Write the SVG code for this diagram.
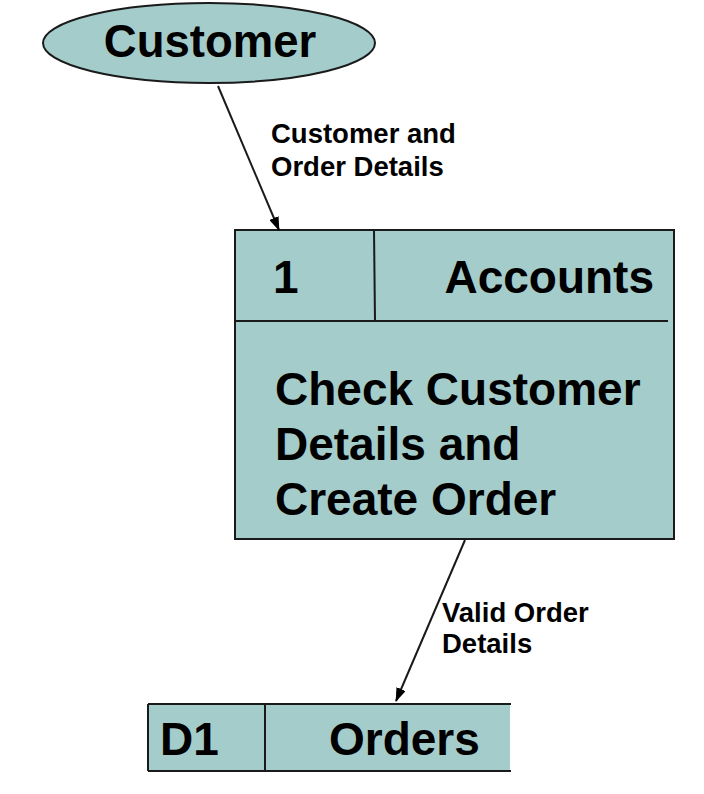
<svg xmlns="http://www.w3.org/2000/svg" width="704" height="794" viewBox="0 0 704 794">
<style>
.shape{fill:#a4cccb;stroke:#1a1a1a;stroke-width:2}
.line{stroke:#1a1a1a;stroke-width:2;fill:none}
.big{font-family:"Liberation Sans",Arial,sans-serif;font-weight:bold;font-size:46px;fill:#000}
.lbl{font-family:"Liberation Sans",Arial,sans-serif;font-weight:bold;font-size:27.5px;fill:#000}
</style>
<defs>
<marker id="arr" viewBox="0 0 14 10" refX="13" refY="5" markerWidth="14" markerHeight="10" markerUnits="userSpaceOnUse" orient="auto">
<path d="M0,0 L14,5 L0,10 Z" fill="#000"/>
</marker>
</defs>
<rect width="704" height="794" fill="#fff"/>
<g id="customer">
<ellipse class="shape" cx="209" cy="43" rx="166" ry="40"/>
<text class="big" x="210" y="57" text-anchor="middle" style="font-size:45.5px">Customer</text>
</g>
<g id="process1">
<rect class="shape" x="235" y="230" width="439" height="309"/>
<line class="line" x1="374" y1="230" x2="375" y2="321"/>
<line class="line" x1="235" y1="321" x2="668" y2="321"/>
<text class="big" x="273" y="293">1</text>
<text class="big" x="654" y="293" text-anchor="end">Accounts</text>
<text class="big" x="275" y="405">Check Customer</text>
<text class="big" x="275" y="460">Details and</text>
<text class="big" x="275" y="515">Create Order</text>
</g>
<g id="store-d1">
<rect x="148" y="704" width="362" height="67" fill="#a4cccb"/>
<line class="line" x1="148" y1="704" x2="511" y2="704"/>
<line class="line" x1="148" y1="771" x2="511" y2="771"/>
<line class="line" x1="148" y1="704" x2="148" y2="771"/>
<line class="line" x1="265" y1="704" x2="265" y2="771"/>
<text class="big" x="160" y="755">D1</text>
<text class="big" x="329" y="755">Orders</text>
</g>
<g id="connectors">
<line class="line" x1="218" y1="86" x2="279" y2="230" marker-end="url(#arr)"/>
<text class="lbl" x="271" y="143">Customer and</text>
<text class="lbl" x="271" y="176">Order Details</text>
<line class="line" x1="465" y1="540" x2="396" y2="701" marker-end="url(#arr)"/>
<text class="lbl" x="442" y="622">Valid Order</text>
<text class="lbl" x="442" y="653">Details</text>
</g>
</svg>
